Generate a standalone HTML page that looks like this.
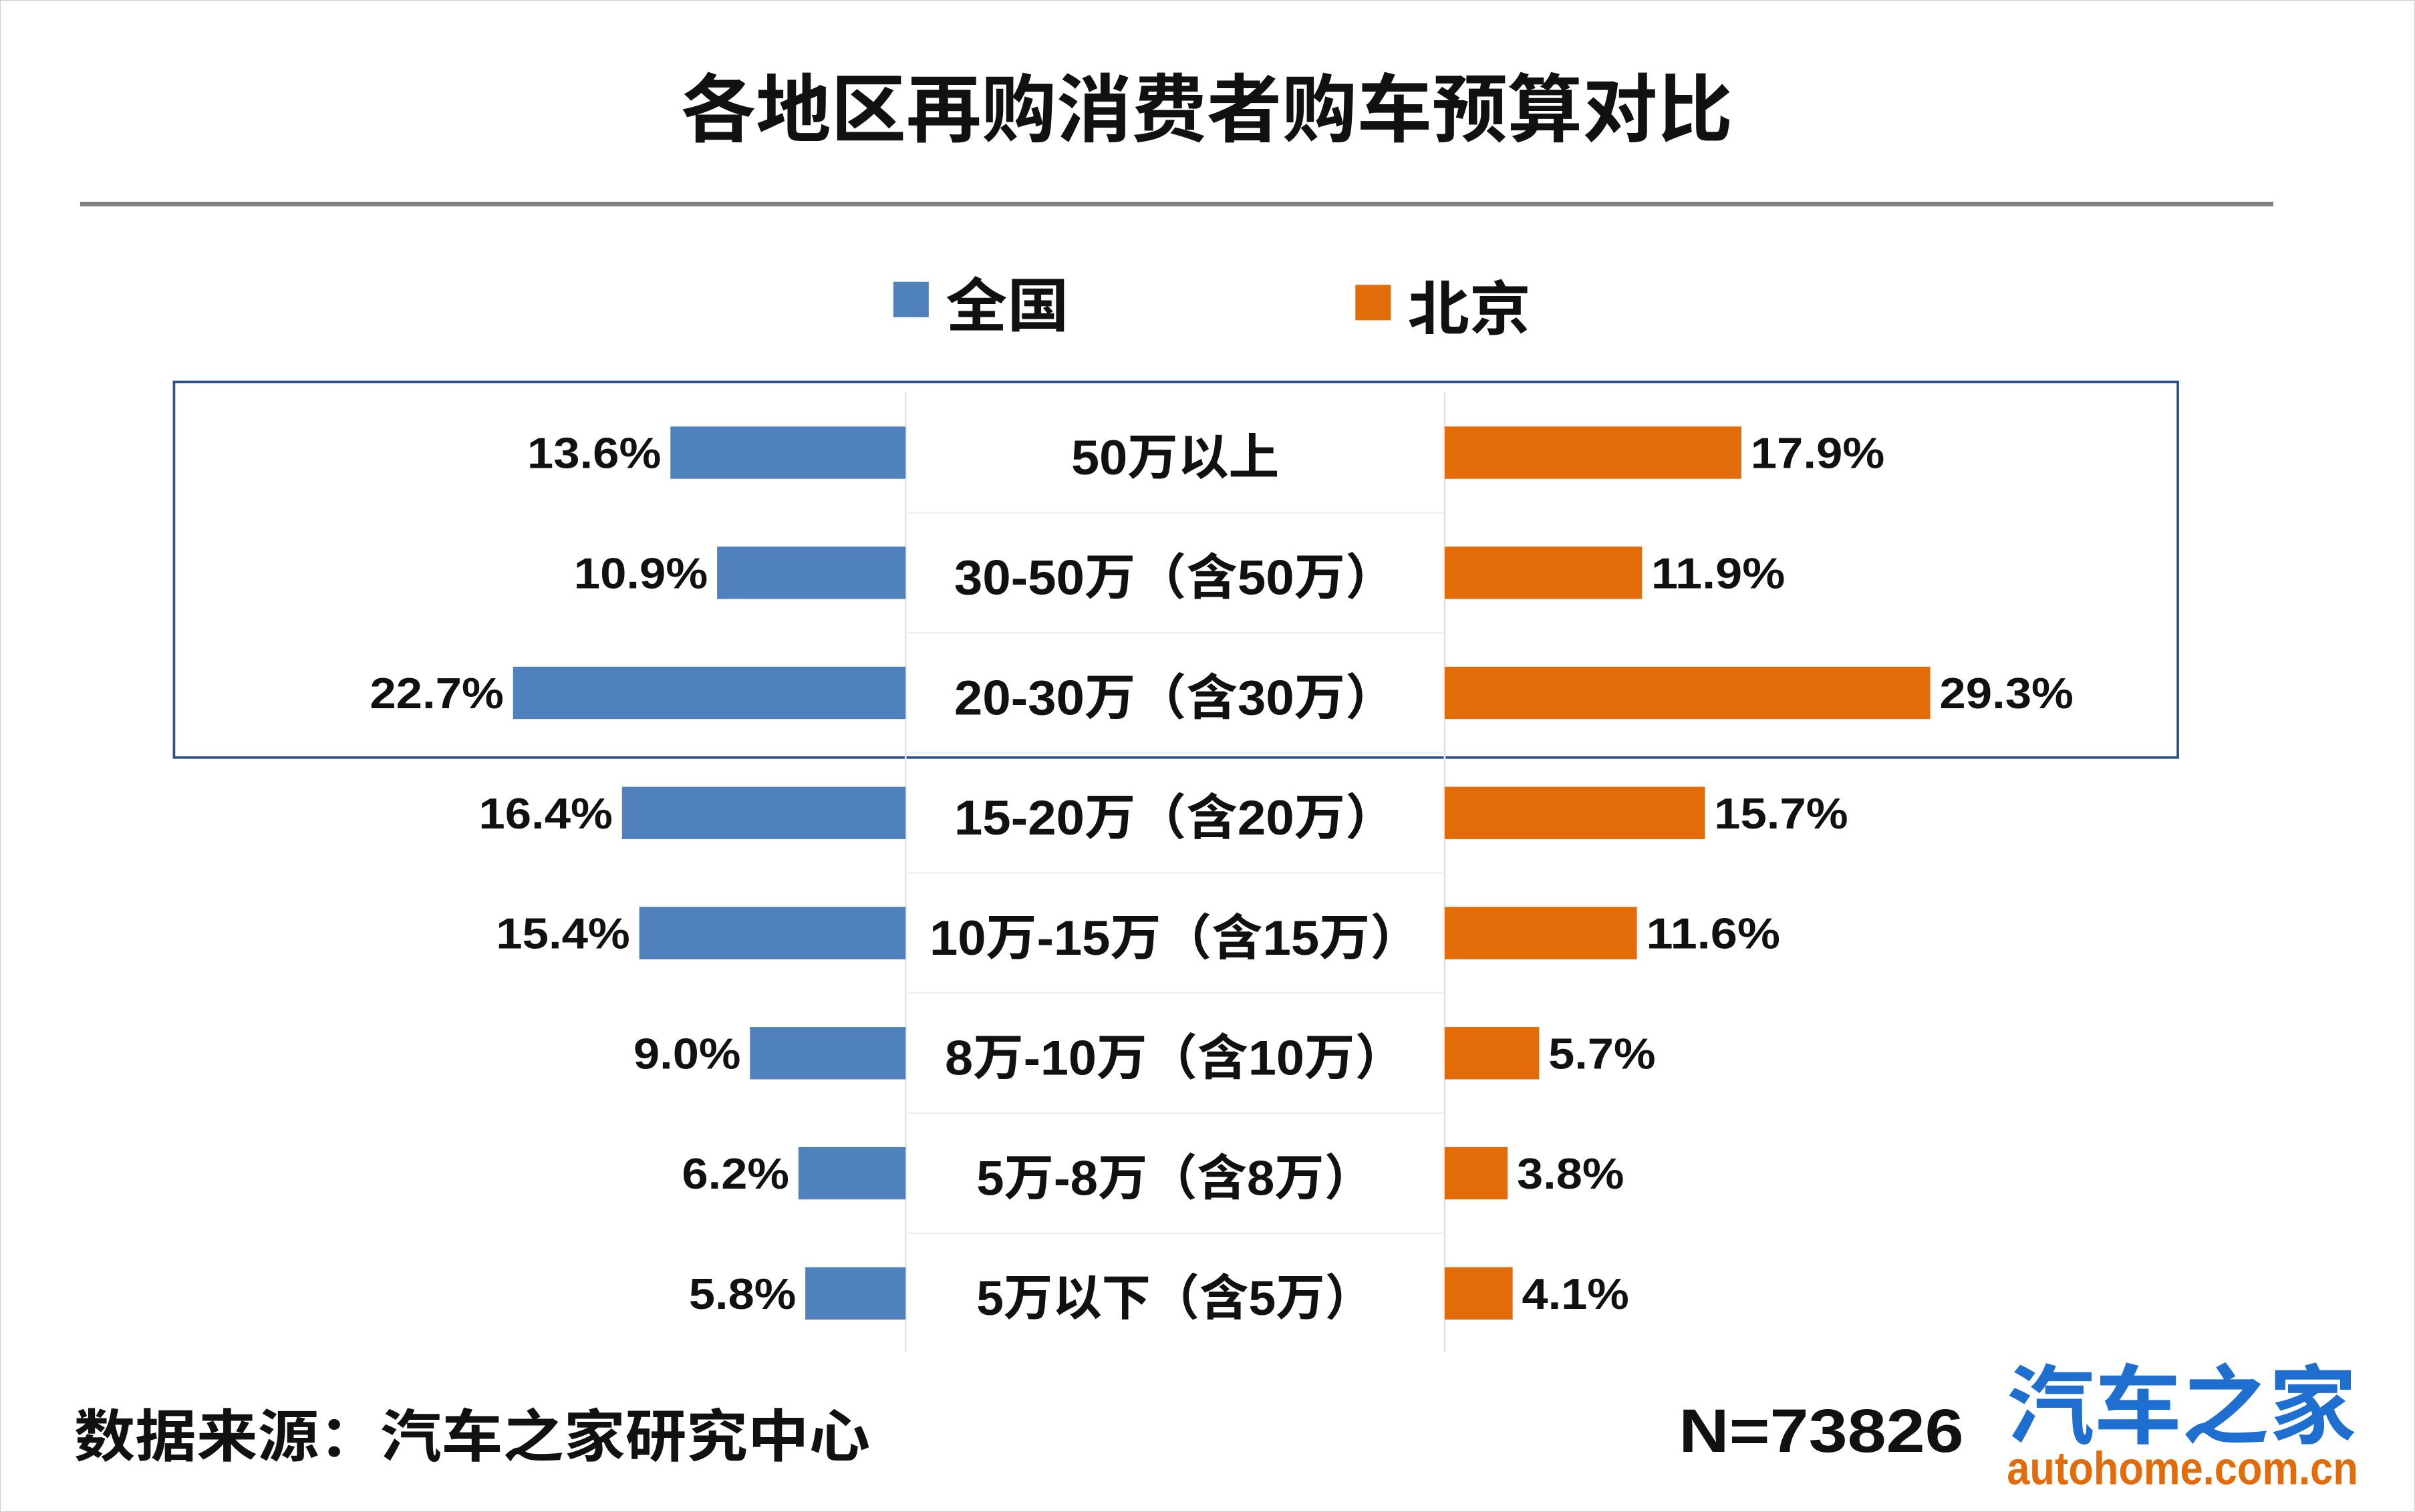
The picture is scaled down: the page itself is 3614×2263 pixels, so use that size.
<!DOCTYPE html>
<html><head><meta charset="utf-8">
<style>
html,body{margin:0;padding:0;background:#fff;}
svg{display:block;}
text{font-family:"Liberation Sans","Noto Sans CJK SC",sans-serif;font-weight:700;}
</style></head>
<body>
<svg id="chart" width="3614" height="2263" viewBox="0 0 1568 982" preserveAspectRatio="none" xmlns="http://www.w3.org/2000/svg">
<rect x="0" y="0" width="1568" height="982" fill="#fff" stroke="#d0d0d0" stroke-width="1"/>
<text x="442" y="88" font-size="48" fill="#111" textLength="683" lengthAdjust="spacingAndGlyphs">各地区再购消费者购车预算对比</text>
<rect x="52" y="131" width="1424" height="3" fill="#808080"/>
<g>
<rect x="580" y="183" width="23" height="23" fill="#4f81bd"/>
<text x="614" y="212" font-size="38" fill="#111" textLength="80" lengthAdjust="spacingAndGlyphs">全国</text>
<rect x="880" y="185" width="23" height="23" fill="#e36c0a"/>
<text x="914" y="214" font-size="38" fill="#111" textLength="80" lengthAdjust="spacingAndGlyphs">北京</text>
</g>
<rect x="113" y="248" width="1301" height="244" fill="none" stroke="#2f4f8f" stroke-width="1.6"/>
<g id="axes">
<line x1="588" y1="255" x2="588" y2="878" stroke="#e4e4e4" stroke-width="1.2"/>
<line x1="938" y1="255" x2="938" y2="878" stroke="#e4e4e4" stroke-width="1.2"/>
</g>
<g id="bars"></g>
<text x="48" y="946" font-size="37" fill="#111" textLength="517" lengthAdjust="spacingAndGlyphs">数据来源：汽车之家研究中心</text>
<text x="1090" y="943" font-size="40" fill="#111" textLength="185" lengthAdjust="spacingAndGlyphs">N=73826</text>
<text x="1303" y="933" font-size="56" fill="#1f6fd0" textLength="227" lengthAdjust="spacingAndGlyphs">汽车之家</text>
<text x="1303" y="964" font-size="30" fill="#e36c0a" textLength="228" lengthAdjust="spacingAndGlyphs">autohome.com.cn</text>
</svg>
<script>
const categories = ["50万以上","30-50万（含50万）","20-30万（含30万）","15-20万（含20万）","10万-15万（含15万）","8万-10万（含10万）","5万-8万（含8万）","5万以下（含5万）"];
const nationalValues = [13.6,10.9,22.7,16.4,15.4,9.0,6.2,5.8];
const beijingValues = [17.9,11.9,29.3,15.7,11.6,5.7,3.8,4.1];
const labelWidths = [135,287,287,287,319,299,258,258];

const NS = "http://www.w3.org/2000/svg";
const g = document.getElementById("bars");
const leftX = v => 588 - v * 11.23;
const rightX = v => 938 + v * 10.76;
const rowY = i => 294 + i * 78;
const barH = 34;
function mk(tag, attrs){ const e=document.createElementNS(NS,tag); for(const k in attrs) e.setAttribute(k,attrs[k]); return e; }

categories.forEach((c,i)=>{
  const cy = rowY(i);
  const lb = mk("rect",{x:leftX(nationalValues[i]),y:cy-barH/2,width:588-leftX(nationalValues[i]),height:barH,fill:"#4f81bd"});
  
  
  g.appendChild(lb);
  const rb = mk("rect",{x:938,y:cy-barH/2,width:rightX(beijingValues[i])-938,height:barH,fill:"#e36c0a"});
  
  
  g.appendChild(rb);
  const ls = nationalValues[i].toFixed(1)+"%";
  const lw = ls.length*17.4;
  const lt = mk("text",{x:leftX(nationalValues[i])-6-lw,y:cy+10,"font-size":"28",fill:"#111",textLength:lw,lengthAdjust:"spacingAndGlyphs"});
  lt.textContent = ls;
  
  
  g.appendChild(lt);
  const rs = beijingValues[i].toFixed(1)+"%";
  const rw = rs.length*17.4;
  const rt = mk("text",{x:rightX(beijingValues[i])+6,y:cy+10,"font-size":"28",fill:"#111",textLength:rw,lengthAdjust:"spacingAndGlyphs"});
  rt.textContent = rs;
  
  
  g.appendChild(rt);
  const w = labelWidths[i];
  const ct = mk("text",{x:763-w/2,y:cy+14,"font-size":"32",fill:"#111",textLength:w,lengthAdjust:"spacingAndGlyphs"});
  ct.textContent = c;
  
  
  g.appendChild(ct);
  if(i>0){
    const sp = mk("line",{x1:588,x2:938,y1:cy-39,y2:cy-39,stroke:"#eeeeee","stroke-width":"1"});
    
    
    g.appendChild(sp);
  }
});
</script>
</body></html>
